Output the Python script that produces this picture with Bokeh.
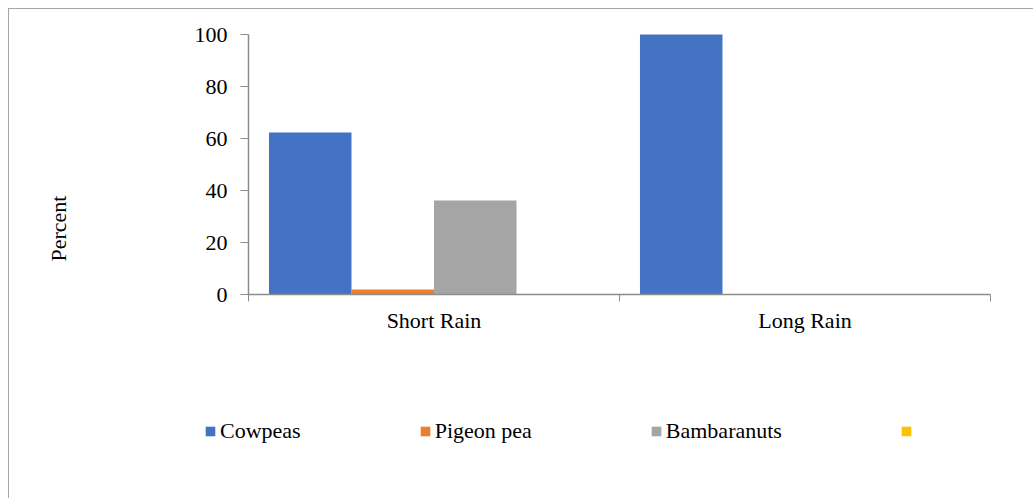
import numpy as np
from bokeh.plotting import figure
from bokeh.models import (ColumnDataSource, Range1d, FixedTicker, Legend, LegendItem, Label)
from bokeh.transform import dodge
from bokeh.embed import file_html
from bokeh.resources import INLINE

categories = ["Short Rain", "Long Rain"]
series = ["Cowpeas", "Pigeon pea", "Bambaranuts", ""]
cowpeas = [62.3, 100.0]
pigeon_pea = [1.9, 0.0]
bambaranuts = [36.2, 0.0]
series4 = [0.0, 0.0]
colors = ["#4472C4", "#ED7D31", "#A5A5A5", "#FFC000"]
y_ticks = [0, 20, 40, 60, 80, 100]
y_label = "Percent"

FONT = "Liberation Serif"
AXIS_COLOR = "#8c8c8c"

# canvas geometry (pixels)
W, H = 1025, 490
FL, FR, FT, FB = 239, 981, 25, 285   # where the data area sits on the canvas
ncat = len(categories)
ymax = 100.0
pxx = (FR - FL) / ncat
pxy = (FB - FT) / ymax
x_range = Range1d(-FL / pxx, ncat + (W - FR) / pxx)
y_range = Range1d(-(H - FB) / pxy, ymax + FT / pxy)

xpos = np.arange(ncat) + 0.5
source = ColumnDataSource(dict(x=xpos, s0=cowpeas, s1=pigeon_pea, s2=bambaranuts, s3=series4))

p = figure(width=W, height=H, output_backend="svg", toolbar_location=None,
           x_range=x_range, y_range=y_range,
           min_border_left=0, min_border_right=0, min_border_top=0, min_border_bottom=0)
p.styles = {"border-left": "1px solid #a6a6a6", "border-top": "1px solid #a6a6a6",
            "margin-left": "8px", "margin-top": "8px"}
p.outline_line_color = None
p.xgrid.grid_line_color = None
p.ygrid.grid_line_color = None

bw = 0.2224
renderers = []
for i, col in enumerate(["s0", "s1", "s2", "s3"]):
    r = p.vbar(x=dodge("x", (i - 1.5) * bw, range=p.x_range), top=col, width=bw,
               bottom=0, source=source, fill_color=colors[i], line_color=None)
    renderers.append(r)

# x axis
p.xaxis.fixed_location = 0
p.xaxis.bounds = (0, ncat)
p.xaxis.ticker = FixedTicker(ticks=list(xpos), minor_ticks=list(range(ncat + 1)))
p.xaxis.major_label_overrides = {float(x): c for x, c in zip(xpos, categories)}
p.xaxis.major_tick_out = 0
p.xaxis.major_tick_in = 0
p.xaxis.minor_tick_out = 7
p.xaxis.minor_tick_in = 0
p.xaxis.minor_tick_line_color = AXIS_COLOR
p.xaxis.axis_line_color = AXIS_COLOR
p.xaxis.axis_line_width = 1.5
p.xaxis.major_label_text_font = FONT
p.xaxis.major_label_text_font_size = "22px"
p.xaxis.major_label_text_color = "black"
p.xaxis.major_label_standoff = 6

# y axis
p.yaxis.fixed_location = 0
p.yaxis.bounds = (0, ymax)
p.yaxis.ticker = FixedTicker(ticks=y_ticks)
p.yaxis.major_tick_out = 8
p.yaxis.major_tick_in = 0
p.yaxis.minor_tick_line_color = None
p.yaxis.major_tick_line_color = AXIS_COLOR
p.yaxis.axis_line_color = AXIS_COLOR
p.yaxis.axis_line_width = 1.5
p.yaxis.major_label_text_font = FONT
p.yaxis.major_label_text_font_size = "22px"
p.yaxis.major_label_text_color = "black"
p.yaxis.major_label_standoff = 13

p.add_layout(Label(x=49, y=H - 219, x_units="screen", y_units="screen", text=y_label,
                   angle=np.pi / 2, text_align="center", text_baseline="middle",
                   text_font=FONT, text_font_size="22px", text_color="black"))

items = [LegendItem(label=s, renderers=[r]) for s, r in zip(series, renderers)]
legend = Legend(items=items, orientation="horizontal", location=(195, H - 435),
                glyph_width=12, glyph_height=12, label_standoff=4, spacing=118,
                label_text_font=FONT, label_text_font_size="22px", label_height=22,
                label_text_color="black", padding=0, margin=0,
                border_line_color=None, background_fill_alpha=0)
p.add_layout(legend, "center")

open("out.html", "w").write(file_html(p, INLINE))
